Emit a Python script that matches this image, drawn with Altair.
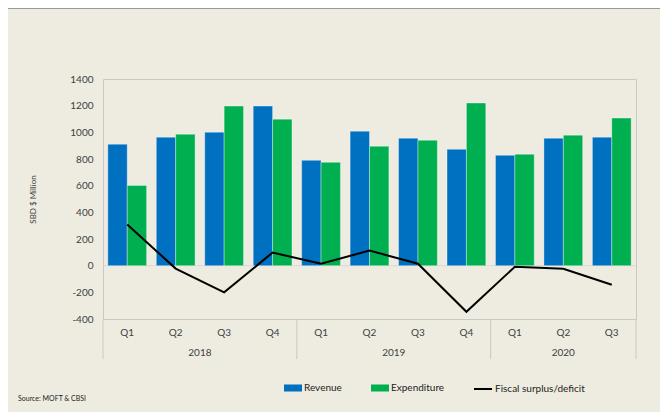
import altair as alt
import pandas as pd

# ---- data ----
quarters = ["Q1", "Q2", "Q3", "Q4", "Q1", "Q2", "Q3", "Q4", "Q1", "Q2", "Q3"]
years = ["2018", "2018", "2018", "2018", "2019", "2019", "2019", "2019", "2020", "2020", "2020"]
revenue = [911, 964, 1001, 1197, 790, 1009, 956, 873, 828, 956, 964]
expenditure = [602, 986, 1197, 1099, 775, 896, 941, 1220, 836, 979, 1107]
balance = [309, -22, -200, 98, 15, 113, 15, -346, -8, -23, -143]
series_names = ["Revenue", "Expenditure"]
line_name = "Fiscal surplus/deficit"
y_title = "SBD $ Million"
source_text = "Source: MOFT & CBSI"
y_ticks = [-400, -200, 0, 200, 400, 600, 800, 1000, 1200, 1400]

FONT = "Lato"
TXT = "#404040"
GRID = "#C8C8C8"

idx = list(range(len(quarters)))
bars_df = pd.DataFrame(
    {"idx": idx * 2,
     "series": [series_names[0]] * len(idx) + [series_names[1]] * len(idx),
     "value": revenue + expenditure}
)
line_df = pd.DataFrame({"idx": idx, "balance": balance, "label": line_name})
qdf = pd.DataFrame({"idx": idx, "quarter": quarters, "year": years})
ydf = qdf.groupby("year", as_index=False).agg(center=("idx", "mean"), lo=("idx", "min"), hi=("idx", "max"))
seps = sorted(set([v - 0.5 for v in ydf["lo"]] + [v + 0.5 for v in ydf["hi"]]))
sep_df = pd.DataFrame({"sep": seps})

xscale = alt.Scale(domain=[-0.5, len(idx) - 0.5], nice=False, zero=False)
yscale = alt.Scale(domain=[-400, 1400], nice=False)


def y_axis():
    return alt.Axis(
        values=y_ticks, grid=False, ticks=False, domain=False,
        labelOverlap=False, labelExpr="'' + datum.value",
        labelPadding=10, labelFontSize=10, labelColor=TXT, labelFont=FONT,
        title=y_title, titleFontSize=8, titleFontWeight="normal",
        titleColor=TXT, titleFont=FONT, titleX=-70, titleBaseline="middle",
    )


zero = alt.Chart(pd.DataFrame({"z": [0]})).mark_rule(color="#D9D9D9", strokeWidth=1).encode(
    y=alt.Y("z:Q", scale=yscale, axis=y_axis())
)

bars = (
    alt.Chart(bars_df)
    .transform_calculate(
        x0=f"datum.idx + (datum.series == '{series_names[0]}' ? -0.4 : 0)",
        base="0",
    )
    .transform_calculate(x1="datum.x0 + 0.4")
    .mark_bar(stroke="white", strokeOpacity=0.35, strokeWidth=1)
    .encode(
        x=alt.X("x0:Q", scale=xscale, axis=None),
        x2="x1:Q",
        y=alt.Y("value:Q", scale=yscale, axis=y_axis()),
        y2="base:Q",
        fill=alt.Fill(
            "series:N",
            scale=alt.Scale(domain=series_names, range=["#0070C0", "#00B050"]),
            legend=alt.Legend(
                title=None, orient="none", legendX=181, legendY=300,
                direction="horizontal", symbolType="M-1,-0.39H1V0.39H-1Z",
                symbolSize=324, symbolStrokeWidth=0, labelFontSize=10,
                labelFont=FONT, labelColor="#222222", columnPadding=29, labelOffset=2,
            ),
        ),
    )
)

line = (
    alt.Chart(line_df)
    .mark_line(strokeWidth=2)
    .encode(
        x=alt.X("idx:Q", scale=xscale, axis=None),
        y=alt.Y("balance:Q", scale=yscale, axis=y_axis()),
        stroke=alt.Stroke(
            "label:N",
            scale=alt.Scale(domain=[line_name], range=["#000000"]),
            legend=alt.Legend(
                title=None, orient="none", legendX=370, legendY=300,
                direction="horizontal", symbolType="stroke", symbolSize=324,
                symbolStrokeWidth=2, labelFontSize=10, labelFont=FONT,
                labelColor="#222222", labelOffset=2,
            ),
        ),
    )
)

qlabels = alt.Chart(qdf).mark_text(fontSize=10, font=FONT, color=TXT, baseline="middle").encode(
    x=alt.X("idx:Q", scale=xscale, axis=None), y=alt.value(254), text="quarter:N"
)
ylabels = alt.Chart(ydf).mark_text(fontSize=10, font=FONT, color=TXT, baseline="middle").encode(
    x=alt.X("center:Q", scale=xscale, axis=None), y=alt.value(274), text="year:N"
)
sepr = alt.Chart(sep_df).mark_rule(color=GRID, strokeWidth=1).encode(
    x=alt.X("sep:Q", scale=xscale, axis=None), y=alt.value(240), y2=alt.value(280)
)
source = alt.Chart(pd.DataFrame({"t": [source_text]})).mark_text(
    fontSize=7, font=FONT, color="#222222", align="left", baseline="middle"
).encode(x=alt.value(-85), y=alt.value(320), text="t:N")

topline = alt.Chart(pd.DataFrame({"a": [0]})).mark_rule(color="#999999", strokeWidth=2).encode(
    x=alt.value(-95), x2=alt.value(557), y=alt.value(-71)
)

chart = (
    alt.layer(zero, bars, line, sepr, qlabels, ylabels, source, topline)
    .resolve_scale(fill="independent", stroke="independent")
    .properties(
        width=533, height=240,
        autosize=alt.AutoSizeParams(type="none"),
        padding={"left": 95, "top": 71, "right": 24, "bottom": 93},
        background="#EEECE1",
    )
    .configure_view(stroke=GRID, strokeWidth=1)
)

chart.save("out.html", embed_options={"renderer": "svg", "actions": False})
